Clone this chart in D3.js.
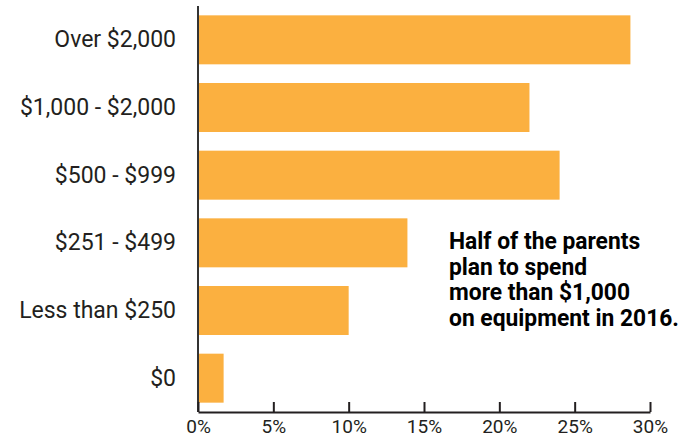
<!DOCTYPE html>
<html>
<head>
<meta charset="utf-8">
<script src="https://cdn.jsdelivr.net/npm/d3@7"></script>
<style>
  body { margin: 0; background: #fff; }
  svg { display: block; }
</style>
</head>
<body>
<div id="chart"></div>
<script>
// spending categories, top to bottom
let categories = ["Over $2,000", "$1,000 - $2,000", "$500 - $999", "$251 - $499", "Less than $250", "$0"];
let shares = [28.7, 22.0, 24.0, 13.9, 10.0, 1.7];
let xTicks = [0, 5, 10, 15, 20, 25, 30];
let note = ["Half of the parents", "plan to spend", "more than $1,000", "on equipment in 2016."];

let w = 684;
let h = 438;
let padL = 198, padR = 650, padT = 6, padB = 412;

let svg = d3.select("#chart").append("svg")
    .attr("width", w)
    .attr("height", h);

let xScale = d3.scaleLinear().domain([0, 30]).range([padL, padR]);
let yScale = d3.scaleBand().domain(categories).range([padT, padB])
    .paddingInner(0.276).paddingOuter(0.138);

// bars
svg.selectAll(".bar").data(categories).enter()
  .append("rect")
    .attr("class", "bar")
    .attr("x", xScale(0))
    .attr("y", d => yScale(d))
    .attr("width", (d, i) => xScale(shares[i]) - xScale(0))
    .attr("height", yScale.bandwidth())
    .attr("fill", "#FBB040");

// y axis
let yAxis = d3.axisLeft(yScale).tickSize(0).tickPadding(22);
let yAxisGroup = svg.append("g").attr("transform", "translate(" + padL + ",0)").call(yAxis);
yAxisGroup.select(".domain").remove();
yAxisGroup.selectAll("text")
    .attr("fill", "#231F20")
    .style("font-family", "Roboto, sans-serif")
    .style("font-size", "23px");
svg.append("line")
    .attr("x1", padL).attr("x2", padL)
    .attr("y1", padT).attr("y2", padB)
    .attr("stroke", "#333")
    .attr("stroke-width", 2);

// x axis, ticks point up into the plot
let xAxis = d3.axisBottom(xScale).tickValues(xTicks).tickFormat(d => d + "%")
    .tickSizeInner(-10).tickSizeOuter(0).tickPadding(8);
let xAxisGroup = svg.append("g").attr("transform", "translate(0," + padB + ")").call(xAxis);
xAxisGroup.select(".domain").attr("stroke", "#231F20").attr("stroke-width", 2);
xAxisGroup.selectAll(".tick line").attr("stroke", "#231F20").attr("stroke-width", 2);
xAxisGroup.selectAll("text")
    .attr("fill", "#231F20")
    .style("font-family", "Roboto, sans-serif")
    .style("font-size", "19px");

// annotation, squeezed to look like a condensed face
let noteX = 449;
let noteGroup = svg.append("g");
noteGroup.selectAll("text").data(note).enter()
  .append("text")
    .text(d => d)
    .attr("x", 0)
    .attr("y", (d, i) => 249 + i * 25.7)
    .attr("fill", "#000")
    .style("font-family", "Roboto, sans-serif")
    .style("font-weight", "bold")
    .style("font-size", "23px");
let widest = d3.max(noteGroup.selectAll("text").nodes(), n => n.getComputedTextLength());
let squeeze = 230 / widest;
noteGroup.attr("transform", "translate(" + noteX + ",0) scale(" + squeeze + ",1)");
</script>
</body>
</html>
